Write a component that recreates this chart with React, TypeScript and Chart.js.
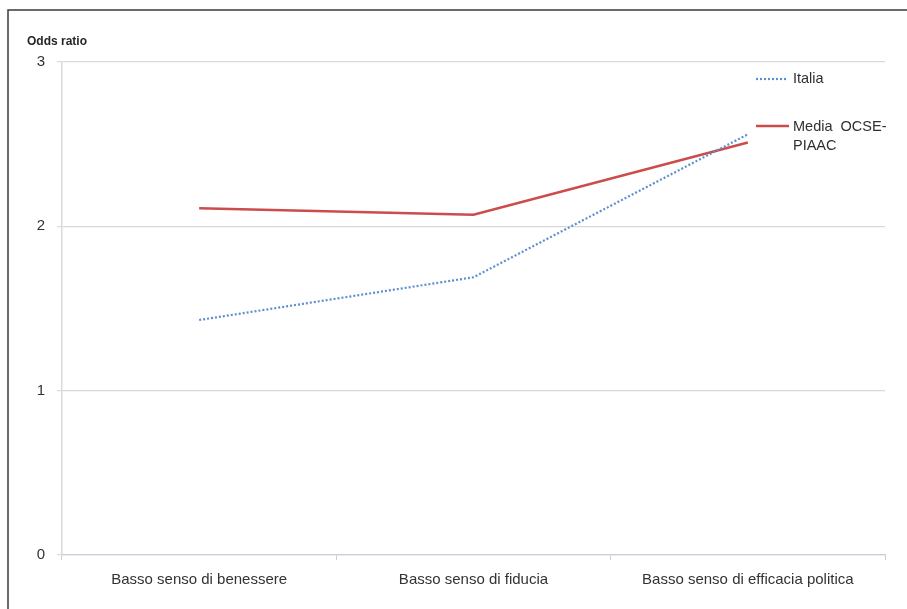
import React, { useEffect, useRef } from "react";
import { Chart, registerables } from "chart.js";

Chart.register(...registerables);

const categories = ["Basso senso di benessere", "Basso senso di fiducia", "Basso senso di efficacia politica"];
const italia = [1.43, 1.69, 2.56];
const mediaOcse = [2.11, 2.07, 2.51];
const yTicks = [0, 1, 2, 3];
const yAxisTitle = "Odds ratio";
const legendItalia = "Italia";
const legendMedia = ["Media  OCSE-", "PIAAC"];

const FONT = "'Liberation Sans', Arial, sans-serif";

const decorPlugin = {
  id: "decor",
  beforeDraw(chart: any) {
    const ctx = chart.ctx;
    ctx.save();
    ctx.fillStyle = "#ffffff";
    ctx.fillRect(0, 0, chart.width, chart.height);
    ctx.strokeStyle = "#3a3a3a";
    ctx.lineWidth = 1.5;
    ctx.beginPath();
    ctx.moveTo(8, chart.height);
    ctx.lineTo(8, 10);
    ctx.lineTo(chart.width, 10);
    ctx.stroke();
    ctx.restore();
  },
  afterDraw(chart: any) {
    const ctx = chart.ctx;
    ctx.save();
    ctx.fillStyle = "#262626";
    ctx.font = "bold 12px " + FONT;
    ctx.textBaseline = "middle";
    ctx.textAlign = "left";
    ctx.fillText(yAxisTitle, 27, 42);

    // legend
    ctx.font = "14.5px " + FONT;
    ctx.fillStyle = "#303030";
    ctx.lineWidth = 2.2;
    ctx.strokeStyle = "#5b8fd0";
    ctx.setLineDash([2, 2]);
    ctx.beginPath();
    ctx.moveTo(756, 79);
    ctx.lineTo(788, 79);
    ctx.stroke();
    ctx.setLineDash([]);
    ctx.fillText(legendItalia, 793, 79);

    ctx.strokeStyle = "#cc4b4b";
    ctx.lineWidth = 2.5;
    ctx.beginPath();
    ctx.moveTo(756, 126);
    ctx.lineTo(789, 126);
    ctx.stroke();
    ctx.fillText(legendMedia[0], 793, 127);
    ctx.fillText(legendMedia[1], 793, 146);
    ctx.restore();
  },
};

export default function App() {
  const ref = useRef<HTMLCanvasElement | null>(null);
  useEffect(() => {
    document.body.style.margin = "0";
    if (!ref.current) return;
    const chart = new Chart(ref.current, {
      type: "line",
      data: {
        labels: categories,
        datasets: [
          {
            label: legendItalia,
            data: italia,
            borderColor: "#5b8fd0",
            borderWidth: 2.2,
            borderDash: [2, 2],
            pointRadius: 0,
            tension: 0,
            fill: false,
          },
          {
            label: legendMedia.join(" "),
            data: mediaOcse,
            borderColor: "#cc4b4b",
            borderWidth: 2.5,
            pointRadius: 0,
            tension: 0,
            fill: false,
          },
        ],
      },
      options: {
        animation: false,
        responsive: false,
        layout: { padding: { top: 62, right: 22, left: 0, bottom: 0 } },
        plugins: { legend: { display: false }, tooltip: { enabled: false } },
        scales: {
          x: {
            offset: true,
            grid: {
              offset: true,
              drawOnChartArea: false,
              tickLength: 5,
              color: "#d0d0d0",
            },
            border: { color: "#c8d0dc", width: 1.2 },
            ticks: {
              color: "#333333",
              font: { family: FONT, size: 15 },
              padding: 11,
              maxRotation: 0,
            },
            afterFit(scale: any) {
              scale.height = 54;
            },
          },
          y: {
            min: 0,
            max: 3,
            afterBuildTicks(scale: any) {
              scale.ticks = yTicks.map((v) => ({ value: v }));
            },
            grid: { color: "#d9d9d9", lineWidth: 1.2, tickLength: 5 },
            border: { color: "#d9d9d9", width: 1.5 },
            ticks: {
              color: "#333333",
              font: { family: FONT, size: 15 },
              padding: 12,
            },
            afterFit(scale: any) {
              scale.width = 62;
            },
          },
        },
      },
      plugins: [decorPlugin],
    });
    return () => chart.destroy();
  }, []);
  return <canvas ref={ref} width={907} height={609} style={{ display: "block" }} />;
}
